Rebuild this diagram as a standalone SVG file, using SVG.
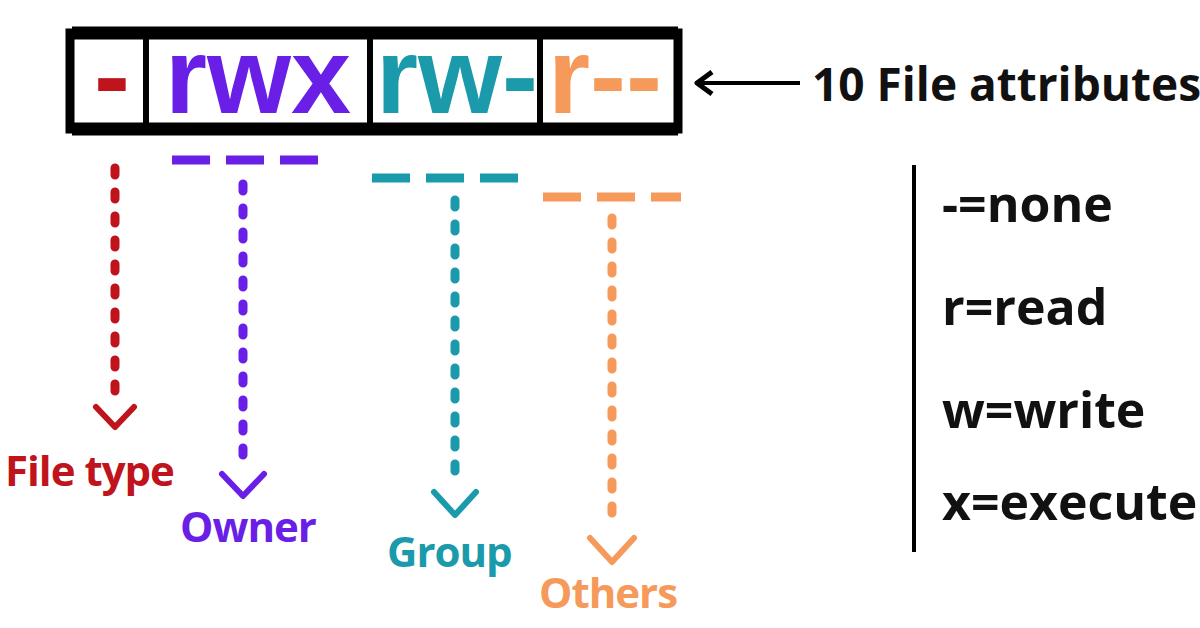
<svg xmlns="http://www.w3.org/2000/svg" width="1200" height="628" viewBox="0 0 1200 628">
<style>
.t{font-family:"Open Sans","Liberation Sans",sans-serif;font-weight:700}
.big{font-family:"Liberation Sans",Arial,sans-serif;font-size:108px;font-weight:700}
.lbl{font-size:42px;letter-spacing:-1px}
.leg{font-size:50px;fill:#111}
.dot{fill:none;stroke-width:9;stroke-linecap:round;stroke-dasharray:7 17}
.dash{fill:none;stroke-width:9;stroke-dasharray:38 16}
.chev{fill:none;stroke-width:6;stroke-linecap:round;stroke-linejoin:round}
</style>
<rect width="1200" height="628" fill="#fff"/>
<g id="perm-box">
<rect x="70" y="33" width="608" height="96" fill="#fff" stroke="#000" stroke-width="9"/>
<line x1="72" y1="33" x2="678" y2="33" stroke="#000" stroke-width="13"/>
<line x1="72" y1="129" x2="678" y2="129" stroke="#000" stroke-width="13"/>
<line x1="146" y1="36" x2="146" y2="126" stroke="#000" stroke-width="6"/>
<line x1="370" y1="36" x2="370" y2="126" stroke="#000" stroke-width="6"/>
<line x1="540" y1="36" x2="540" y2="126" stroke="#000" stroke-width="6"/>
<text class="big" x="112" y="113" text-anchor="middle" fill="#c0141c">-</text>
<text class="big" x="258" y="113" text-anchor="middle" fill="#6a1fe6">rwx</text>
<text class="big" x="376" y="113" fill="#1a9aaa">rw-</text>
<text class="big" x="548" y="113" fill="#f59a5a">r--</text>
</g>
<g id="attr-label">
<text class="t" x="812" y="101" font-size="46" fill="#111">10 File attributes</text>
</g>
<g id="connectors">
<line x1="800" y1="83" x2="700" y2="83" stroke="#000" stroke-width="4"/>
<path d="M712 72 L697 83 L712 94" fill="none" stroke="#000" stroke-width="5" stroke-linejoin="round"/>
<line class="dash" x1="172" y1="160" x2="318" y2="160" stroke="#6a1fe6"/>
<line class="dash" x1="372" y1="178" x2="528" y2="178" stroke="#1a9aaa"/>
<line class="dash" x1="543" y1="197" x2="681" y2="197" stroke="#f59a5a"/>
<line class="dot" x1="115" y1="168" x2="115" y2="400" stroke="#c0141c"/>
<path class="chev" d="M96 407 L115 427 L134 407" stroke="#c0141c"/>
<line class="dot" x1="243" y1="184" x2="243" y2="464" stroke="#6a1fe6"/>
<path class="chev" d="M222 474 L243 496 L264 474" stroke="#6a1fe6"/>
<line class="dot" x1="455" y1="200" x2="455" y2="484" stroke="#1a9aaa"/>
<path class="chev" d="M434 492 L455 515 L476 492" stroke="#1a9aaa"/>
<line class="dot" x1="612" y1="218" x2="612" y2="530" stroke="#f59a5a"/>
<path class="chev" d="M590 538 L612 562 L634 538" stroke="#f59a5a"/>
</g>
<g id="labels">
<text class="t lbl" x="5" y="486" fill="#c0141c">File type</text>
<text class="t lbl" x="180" y="542" fill="#6a1fe6">Owner</text>
<text class="t lbl" x="387" y="567" fill="#1a9aaa">Group</text>
<text class="t lbl" x="539" y="608" fill="#f59a5a">Others</text>
</g>
<g id="legend">
<line x1="914" y1="165" x2="914" y2="552" stroke="#000" stroke-width="4"/>
<text class="t leg" x="942" y="222">-=none</text>
<text class="t leg" x="942" y="325">r=read</text>
<text class="t leg" x="942" y="428">w=write</text>
<text class="t leg" x="942" y="520">x=execute</text>
</g>
</svg>
